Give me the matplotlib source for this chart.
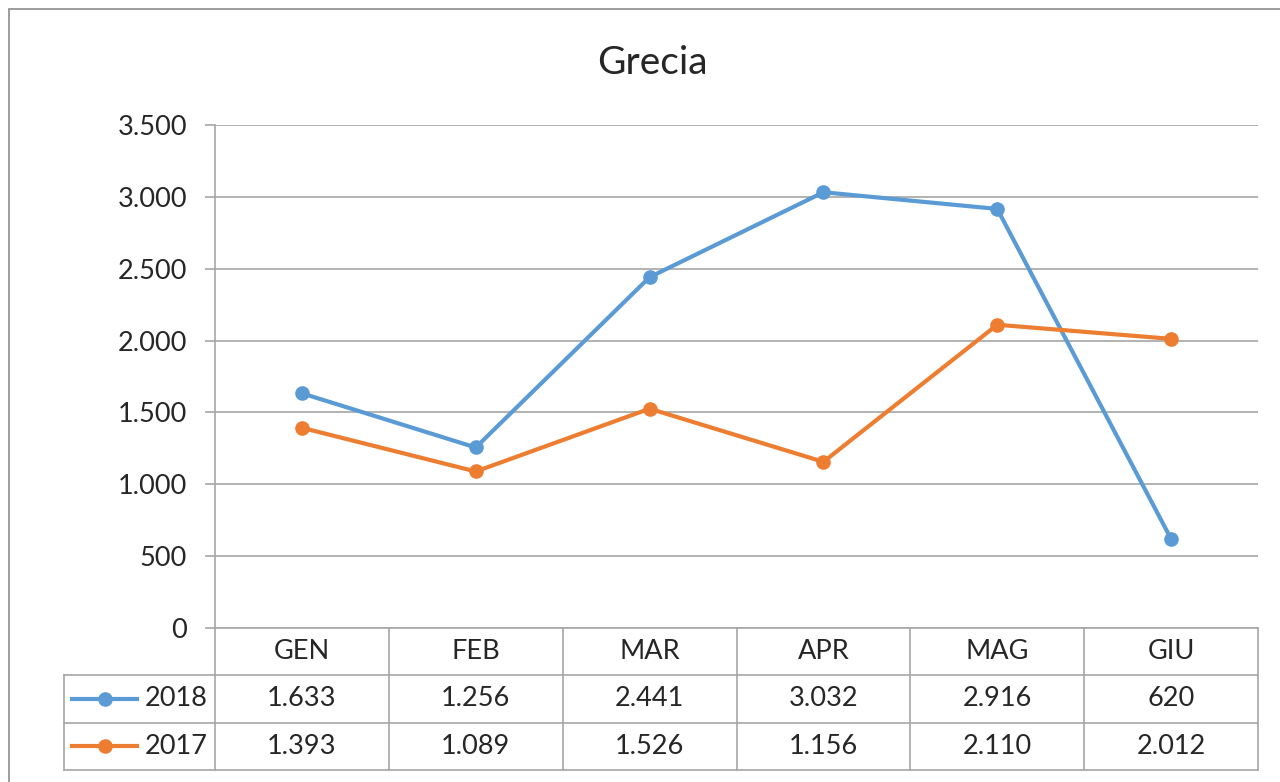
import matplotlib
matplotlib.use("Agg")
import matplotlib.pyplot as plt
from matplotlib.patches import Rectangle
from matplotlib.ticker import FuncFormatter

plt.rcParams['font.family'] = ['Lato', 'DejaVu Sans']

months = ['GEN', 'FEB', 'MAR', 'APR', 'MAG', 'GIU']
v2018 = [1633, 1256, 2441, 3032, 2916, 620]
v2017 = [1393, 1089, 1526, 1156, 2110, 2012]
series = [('2018', v2018, '#5B9BD5'), ('2017', v2017, '#ED7D31')]

W, H = 1280, 782
grid_col = '#a6a6a6'
txt_col = '#262626'
fs = 19.5


def fmt(v):
    return f'{v:,.0f}'.replace(',', '.')


fig = plt.figure(figsize=(W / 100, H / 100), dpi=100)

# chart border (goes past the right and bottom of the picture)
fig.patches.append(Rectangle((9 / W, -0.05), 1.2, 1 - 9 / H + 0.05,
                             transform=fig.transFigure, fill=False,
                             edgecolor='#8c8c8c', linewidth=1.2))
fig.text(652 / W, 1 - 74 / H, 'Grecia', ha='center', va='baseline',
         fontsize=28, color=txt_col)

# plot area in pixels
L, R, T, B = 215, 1258, 125, 628
ax = fig.add_axes([L / W, 1 - B / H, (R - L) / W, (B - T) / H])
x = list(range(len(months)))
for name, vals, col in series:
    ax.plot(x, vals, color=col, lw=3, marker='o', ms=9.5, zorder=3)

ax.set_xlim(-0.5, len(months) - 0.5)
ax.set_ylim(0, 3500)
ax.set_yticks(range(0, 3501, 500))
ax.yaxis.set_major_formatter(FuncFormatter(lambda v, p: fmt(v)))
ax.grid(axis='y', color=grid_col, lw=1.2)
ax.set_axisbelow(True)
for s in ['top', 'right', 'bottom']:
    ax.spines[s].set_visible(False)
ax.spines['left'].set_color(grid_col)
ax.spines['left'].set_linewidth(1.2)
ax.tick_params(axis='y', length=7.2, width=1.2, color=grid_col,
               labelsize=fs, labelcolor=txt_col, pad=13)
ax.set_xticks([])

# data table below the plot
TL, TB = 64, 770
extra = (L - TL) / ((R - L) / len(months))
tab = fig.add_axes([TL / W, 1 - TB / H, (R - TL) / W, (TB - B) / H])
tab.set_xlim(-0.5 - extra, len(months) - 0.5)
tab.set_ylim(3, 0)
tab.axis('off')
lk = dict(color=grid_col, lw=1.2, clip_on=False)
x0 = -0.5
x1 = len(months) - 0.5
tab.plot([x0, x1], [0, 0], **lk)
for r in (1, 2, 3):
    tab.plot([-0.5 - extra, x1], [r, r], **lk)
tab.plot([-0.5 - extra] * 2, [1, 3], **lk)
for i in range(len(months) + 1):
    tab.plot([x0 + i] * 2, [0, 3], **lk)
for i, m in enumerate(months):
    tab.text(i, 0.5, m, ha='center', va='center', fontsize=fs, color=txt_col)
for r, (name, vals, col) in enumerate(series, start=1):
    for i, v in enumerate(vals):
        tab.text(i, r + 0.5, fmt(v), ha='center', va='center',
                 fontsize=fs, color=txt_col)
    lx0 = -0.5 - extra + 0.046
    tab.plot([lx0, lx0 + 0.374], [r + 0.5] * 2, color=col, lw=3,
             clip_on=False)
    tab.plot([lx0 + 0.19], [r + 0.5], 'o', color=col, ms=9.5, clip_on=False)
    tab.text(-0.5 - 0.04, r + 0.5, name, ha='right', va='center',
             fontsize=fs, color=txt_col)

fig.savefig('out.png', dpi=100, facecolor='white')
